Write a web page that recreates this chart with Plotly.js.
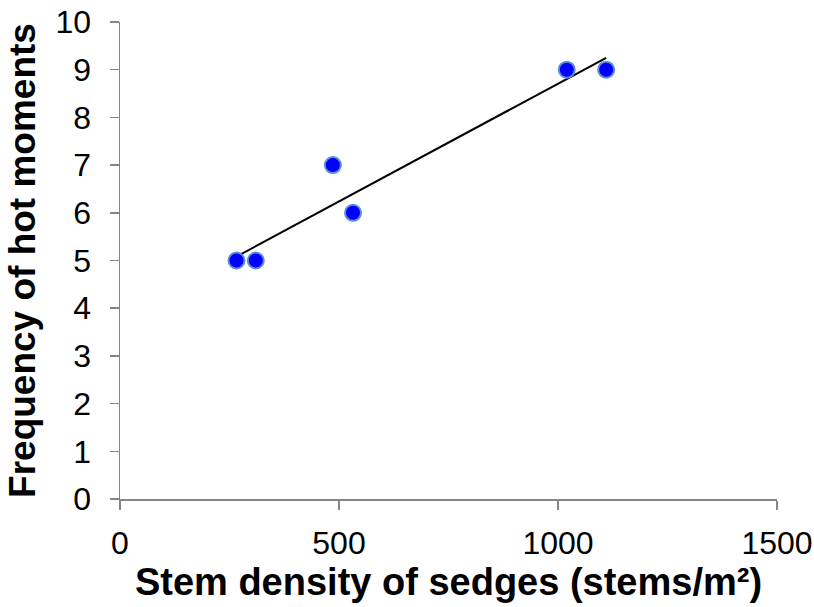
<!DOCTYPE html>
<html>
<head>
<meta charset="utf-8">
<script src="https://cdn.plot.ly/plotly-3.0.1.min.js"></script>
<style>html,body{margin:0;padding:0;background:#fff;}#chart{width:814px;height:607px;}</style>
</head>
<body>
<div id="chart"></div>
<script>
const stemDensity = [266, 310, 486, 532, 1020, 1110];
const hotMoments = [5, 5, 7, 6, 9, 9];
const xTicks = [0, 500, 1000, 1500];
const yTicks = [0, 1, 2, 3, 4, 5, 6, 7, 8, 9, 10];

// least-squares linear trendline
const n = stemDensity.length;
const mx = stemDensity.reduce((a, b) => a + b, 0) / n;
const my = hotMoments.reduce((a, b) => a + b, 0) / n;
let sxy = 0, sxx = 0;
for (let i = 0; i < n; i++) {
  sxy += (stemDensity[i] - mx) * (hotMoments[i] - my);
  sxx += (stemDensity[i] - mx) ** 2;
}
const slope = sxy / sxx;
const intercept = my - slope * mx;
const trendX = [Math.min(...stemDensity), Math.max(...stemDensity)];
const trendY = trendX.map(x => intercept + slope * x);

const traces = [
  {
    x: trendX, y: trendY, mode: 'lines', type: 'scatter',
    line: {color: '#000000', width: 2}, hoverinfo: 'skip', showlegend: false
  },
  {
    x: stemDensity, y: hotMoments, mode: 'markers', type: 'scatter',
    marker: {size: 16, color: '#0000FF', line: {color: '#5B8FD0', width: 2}},
    showlegend: false
  }
];

const fam = 'Liberation Sans, Arial, sans-serif';
const layout = {
  width: 814, height: 607,
  margin: {l: 120, r: 37, t: 22, b: 108},
  paper_bgcolor: '#ffffff', plot_bgcolor: '#ffffff',
  font: {family: fam, color: '#000000'},
  showlegend: false,
  xaxis: {
    range: [0, 1500], tickvals: xTicks, ticktext: xTicks.map(String),
    showgrid: false, zeroline: false, showline: true, linecolor: '#868686', linewidth: 1.5,
    ticks: 'outside', ticklen: 9, tickwidth: 1.5, tickcolor: '#868686',
    ticklabelstandoff: 6,
    tickfont: {family: fam, size: 32, color: '#000'},
    title: {text: '<b>Stem density of sedges (stems/m²)</b>', font: {family: fam, size: 38, color: '#000'}, standoff: 6}
  },
  yaxis: {
    range: [0, 10], tickvals: yTicks, ticktext: yTicks.map(String),
    showgrid: false, zeroline: false, showline: true, linecolor: '#868686', linewidth: 1.5,
    ticks: 'outside', ticklen: 9, tickwidth: 1.5, tickcolor: '#868686',
    ticklabelstandoff: 12,
    tickfont: {family: fam, size: 32, color: '#000'},
    title: {text: '<b>Frequency of hot moments</b>', font: {family: fam, size: 37, color: '#000'}, standoff: 8}
  }
};

Plotly.newPlot('chart', traces, layout, {displayModeBar: false, staticPlot: true});
</script>
</body>
</html>
